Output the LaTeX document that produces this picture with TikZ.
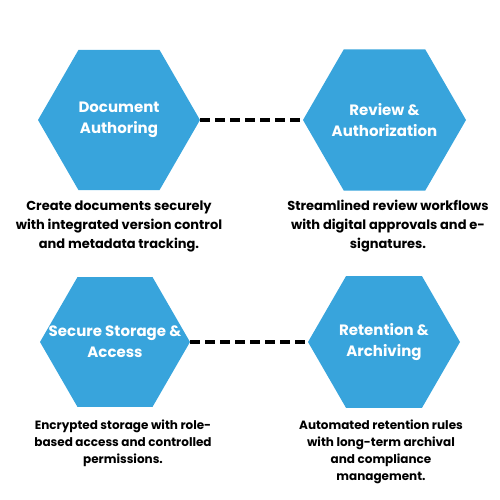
\documentclass[tikz,border=0pt]{standalone}
\usepackage{fontspec}
\setmainfont{Poppins}
\usetikzlibrary{shapes.geometric}
\definecolor{hexblue}{RGB}{56,164,220}
\tikzset{
  hexa/.style={regular polygon, regular polygon sides=6, fill=hexblue,
    inner sep=0pt, outer sep=0pt},
  hexlabel/.style={text=white, align=center, font=\fontsize{15}{21}\selectfont\bfseries},
  desc/.style={align=center, font=\fontsize{13}{19}\selectfont\bfseries},
  smalldesc/.style={align=center, font=\fontsize{12}{17}\selectfont\bfseries},
  link/.style={line width=4pt, dash pattern=on 10pt off 5pt},
}
\begin{document}
\begin{tikzpicture}[x=1pt,y=-1pt]
      \useasboundingbox (0,0) rectangle (500,500);
      % top row
      \node[hexa, minimum size=162pt] (author) at (119,120) {};
      \node[hexa, minimum size=163pt] (review) at (384.5,120) {};
      \node[hexlabel] (authortext) at (author) {Document\\Authoring};
      \node[hexlabel] (reviewtext) at (review) {Review \&\\Authorization};
      \draw[link] (author.east) -- (review.west);
      \node[desc] (authordesc) at (119,226) {Create documents securely\\with integrated version control\\and metadata tracking.};
      \node[desc] (reviewdesc) at (388,226) {Streamlined review workflows\\with digital approvals and e-\\signatures.};
      % bottom row
      \node[hexa, minimum size=150pt] (storage) at (115,342) {};
      \node[hexa, minimum size=152pt] (retain) at (384,342) {};
      \node[hexlabel] (storagetext) at (storage) {Secure Storage \&\\Access};
      \node[hexlabel] (retaintext) at (retain) {Retention \&\\Archiving};
      \draw[link] (storage.east) -- (retain.west);
      \node[smalldesc] (storagedesc) at (123,443) {Encrypted storage with role-\\based access and controlled\\permissions.};
      \node[smalldesc] (retaindesc) at (381,451.5) {Automated retention rules\\with long-term archival\\and compliance\\management.};
\end{tikzpicture}
\end{document}
